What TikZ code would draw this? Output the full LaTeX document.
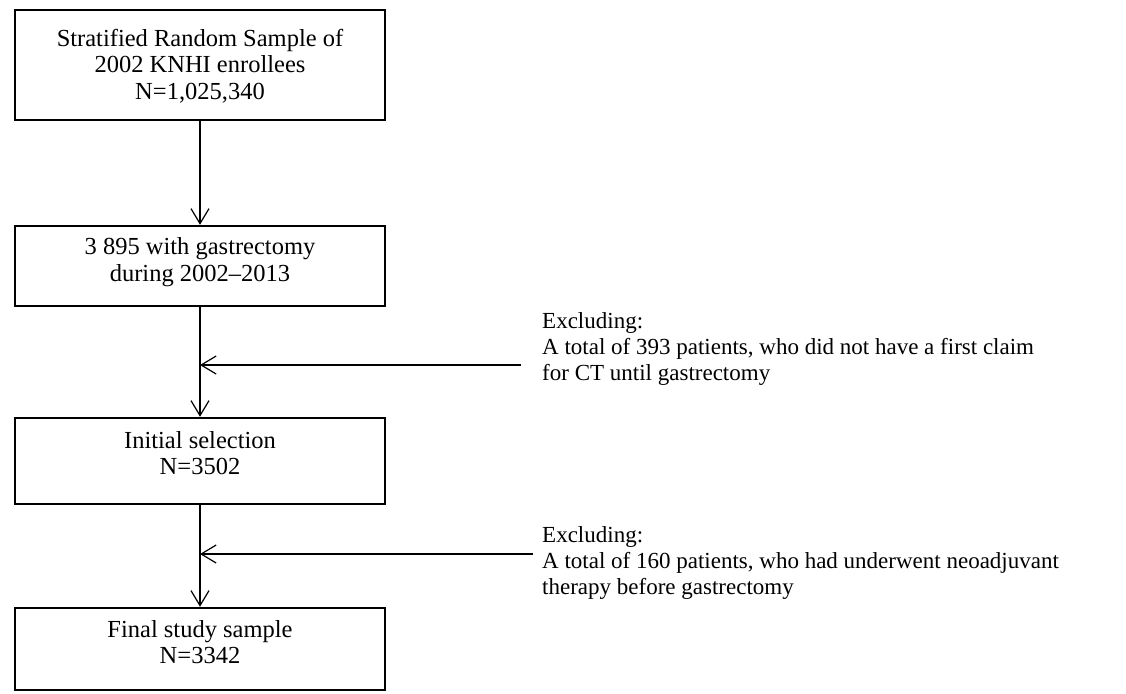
\documentclass[tikz,border=0pt]{standalone}
\usepackage{fontspec}
\setmainfont{Liberation Serif}
\usetikzlibrary{arrows.meta}
\begin{document}
\begin{tikzpicture}[x=1pt,y=-1pt,
  box/.style={draw, line width=2.4pt, minimum width=370pt, inner sep=0pt},
  boxtext/.style={align=center, font=\fontsize{24.5}{26.5}\selectfont, inner sep=0pt},
  note/.style={anchor=west, align=left, font=\fontsize{23}{26}\selectfont, inner sep=0pt},
  flow/.style={line width=1.2pt, -{Straight Barb[length=15pt,width=18pt,line width=1.2pt]}}]
\useasboundingbox (0,0) rectangle (1126,693);
\node[box, minimum height=110pt] (b1) at (200,65) {};
\node[box, minimum height=80pt] (b2) at (200,266) {};
\node[box, minimum height=86pt] (b3) at (200,461) {};
\node[box, minimum height=82pt] (b4) at (200,649) {};
\node[boxtext] (t1) at (200,66) {Stratified Random Sample of\\2002 KNHI enrollees\\N=1,025,340};
\node[boxtext] (t2) at (200,262) {3 895 with gastrectomy\\during 2002--2013};
\node[boxtext] (t3) at (200,453) {Initial selection\\N=3502};
\node[boxtext] (t4) at (200,642) {Final study sample\\N=3342};
\draw[flow] (b1.south) -- (b2.north);
\draw[flow] (b2.south) -- (b3.north);
\draw[flow] (b3.south) -- (b4.north);
\coordinate (e1) at (521,365);
\coordinate (e2) at (533,554);
\draw[flow] (e1) -- (e1 -| b2.south);
\draw[flow] (e2) -- (e2 -| b3.south);
\node[note] (n1) at (542,349) {Excluding:\\A total of 393 patients, who did not have a first claim\\for CT until gastrectomy};
\node[note] (n2) at (542,563) {Excluding:\\A total of 160 patients, who had underwent neoadjuvant\\therapy before gastrectomy};
\end{tikzpicture}
\end{document}
